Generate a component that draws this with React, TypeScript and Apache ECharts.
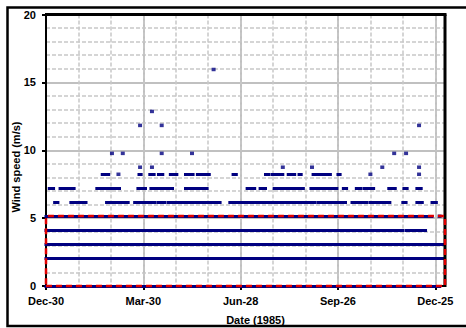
import React, { useEffect, useRef } from 'react';
import * as echarts from 'echarts';

// X axis: days since 30 Dec 1984
const xTickDays = [0, 90, 180, 270, 360];
const xTickLabels = ['Dec-30', 'Mar-30', 'Jun-28', 'Sep-26', 'Dec-25'];
const xMaxDay = 369;
const yTickValues = [0, 5, 10, 15, 20];

// Wind speed levels (m/s) and observed runs of consecutive days [start, end]
const calmRuns = [[0, 364]];
const ws206Runs = [[0, 367]];
const ws309Runs = [[0, 367]];
const ws412Runs = [[0, 41], [43, 132], [134, 208], [210, 245], [247, 330], [333, 341], [343, 351]];
const ws514Runs = [[0, 357]];
const ws617Runs = [[8, 11], [23, 29], [31, 37], [56, 76], [82, 101], [104, 110], [113, 161], [170, 249], [252, 277], [283, 297], [300, 309], [311, 318], [330, 333], [343, 348], [357, 361]];
const ws72Runs = [[3, 7], [13, 26], [47, 55], [57, 68], [85, 92], [97, 117], [129, 149], [186, 193], [198, 203], [211, 238], [245, 269], [275, 278], [287, 291], [294, 303], [317, 323], [331, 334], [343, 347]];
const ws823Runs = [[52, 58], [86, 88], [96, 100], [104, 108], [115, 121], [129, 136], [140, 151], [173, 176], [203, 206], [209, 219], [224, 230], [234, 236], [247, 263], [270, 272]];

// isolated observations (day) per level
const ws514Dots = [364];
const ws823Dots = [67, 300, 345];
const ws875Dots = [87, 98, 219, 246, 311, 345];
const ws977Dots = [61, 71, 107, 135, 322, 333];
const ws1183Dots = [87, 107, 345];
const ws1286Dots = [98];
const ws1595Dots = [155];

// highlighted region (dashed red box)
const highlightX = [0, 369];
const highlightY = [0, 5.15];

const runGroups: [number, number[][]][] = [
  [0, calmRuns], [2.06, ws206Runs], [3.09, ws309Runs], [4.12, ws412Runs],
  [5.14, ws514Runs], [6.17, ws617Runs], [7.2, ws72Runs], [8.23, ws823Runs],
];
const dotGroups: [number, number[]][] = [
  [5.14, ws514Dots], [8.23, ws823Dots], [8.75, ws875Dots], [9.77, ws977Dots],
  [11.83, ws1183Dots], [12.86, ws1286Dots], [15.95, ws1595Dots],
];

const FONT = 'Liberation Sans, Arial, sans-serif';
const NAVY = '#000080';
const GRID = { left: 46, top: 14.5, right: 21, bottom: 42 };

export default function App() {
  const ref = useRef<HTMLDivElement>(null);
  useEffect(() => {
    const chart = echarts.init(ref.current!, null, { renderer: 'svg' });
    const lineData: any[] = [];
    runGroups.forEach(([lvl, runs]) => {
      runs.forEach(([a, b]) => lineData.push({ coords: [[a, lvl], [b, lvl]] }));
    });
    const dotData: number[][] = [];
    dotGroups.forEach(([lvl, days]) => days.forEach((d) => dotData.push([d, lvl])));
    const rect = [
      [highlightX[0], highlightY[0]],
      [highlightX[1], highlightY[0]],
      [highlightX[1], highlightY[1]],
      [highlightX[0], highlightY[1]],
      [highlightX[0], highlightY[0]],
    ];
    const labelStyle = { fontFamily: FONT, fontWeight: 'bold' as const, fontSize: 11, color: '#000' };
    const W = 466, H = 328;
    chart.setOption({
      animation: false,
      backgroundColor: '#fff',
      grid: { ...GRID, show: true, borderColor: '#000', borderWidth: 0, backgroundColor: '#fff' },
      xAxis: [
        {
          type: 'value', min: 0, max: xMaxDay, interval: 90, position: 'bottom',
          axisLine: { show: true, onZero: false, lineStyle: { color: '#000', width: 2 } },
          axisTick: { show: true, length: 4, lineStyle: { color: '#000', width: 2 }, customValues: xTickDays },
          axisLabel: {
            ...labelStyle, margin: 9, customValues: xTickDays,
            formatter: (v: number) => { const i = xTickDays.indexOf(v); return i >= 0 ? xTickLabels[i] : ''; },
          },
          splitLine: { show: true, lineStyle: { color: '#c0c0c0', width: 2, type: 'solid' } },
        },
        {
          type: 'value', min: 0, max: xMaxDay, interval: 30,
          axisLine: { show: false }, axisTick: { show: false }, axisLabel: { show: false },
          splitLine: { show: true, lineStyle: { color: '#c8c8c8', width: 1.5, type: [4, 2] } },
        },
      ],
      yAxis: {
        type: 'value', min: 0, max: 20, interval: 5,
        axisLine: { show: true, lineStyle: { color: '#000', width: 2 } },
        axisTick: { show: true, length: 4, lineStyle: { color: '#000', width: 2 } },
        axisLabel: { ...labelStyle, margin: 10, formatter: (v: number) => (yTickValues.includes(v) ? String(v) : '') },
        splitLine: { show: true, lineStyle: { color: '#c0c0c0', width: 2 } },
        minorTick: { show: false, splitNumber: 5 },
        minorSplitLine: { show: true, lineStyle: { color: '#c8c8c8', width: 1.5, type: [4, 2] } },
      },
      graphic: [
        { type: 'rect', shape: { x: 7.5, y: 7.5, width: 470, height: 318.5 }, style: { fill: 'none', stroke: '#000', lineWidth: 2.5 }, z: 100 },
        // plot area frame: top and right edges
        { type: 'line', shape: { x1: GRID.left - 1, y1: GRID.top, x2: W - GRID.right + 1.5, y2: GRID.top }, style: { stroke: '#000', lineWidth: 3 }, z: 4 },
        { type: 'line', shape: { x1: W - GRID.right, y1: GRID.top, x2: W - GRID.right, y2: H - GRID.bottom + 1 }, style: { stroke: '#000', lineWidth: 3 }, z: 4 },
        { type: 'text', x: 16, y: 167, rotation: Math.PI / 2, style: { text: 'Wind speed (m/s)', font: `bold 11px ${FONT}`, fill: '#000', align: 'center', verticalAlign: 'middle' }, z: 100 },
        { type: 'text', x: 255.5, y: 319.5, style: { text: 'Date (1985)', font: `bold 11px ${FONT}`, fill: '#000', align: 'center', verticalAlign: 'middle' }, z: 100 },
      ],
      series: [
        {
          type: 'lines', coordinateSystem: 'cartesian2d', xAxisIndex: 0, yAxisIndex: 0, polyline: false, clip: false,
          lineStyle: { color: NAVY, width: 3, cap: 'square', opacity: 1 },
          data: lineData, z: 3,
        },
        {
          type: 'scatter', xAxisIndex: 0, yAxisIndex: 0, symbol: 'rect', symbolSize: [4, 3.5], clip: false,
          itemStyle: { color: NAVY }, data: dotData, z: 3,
        },
        {
          type: 'line', xAxisIndex: 0, yAxisIndex: 0, data: rect, symbol: 'none', clip: false,
          lineStyle: { color: '#e00000', width: 2.5, type: [6, 4] }, z: 5,
        },
      ],
    });
    return () => chart.dispose();
  }, []);
  return <div ref={ref} style={{ position: 'absolute', left: 0, top: 0, width: 466, height: 328 }} />;
}
